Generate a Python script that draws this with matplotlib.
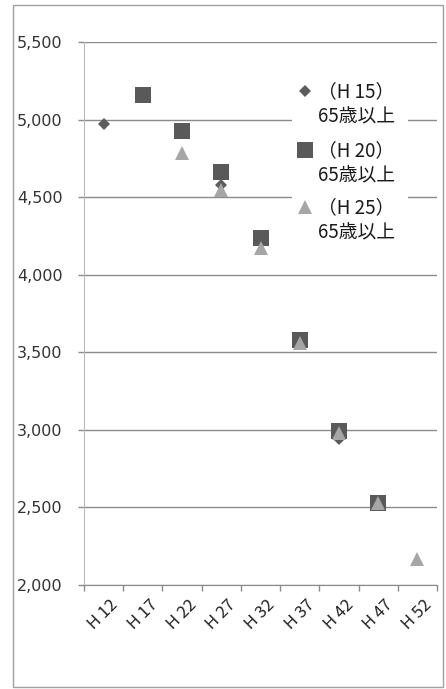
import numpy as np
import matplotlib
matplotlib.use("Agg")
import matplotlib.pyplot as plt
from matplotlib.patches import Rectangle
from matplotlib.transforms import ScaledTranslation

plt.rcParams['font.family'] = ['Noto Sans CJK JP', 'DejaVu Sans']

# projected population (65 and over), three projection vintages
years = ['H 12', 'H 17', 'H 22', 'H 27', 'H 32', 'H 37', 'H 42', 'H 47', 'H 52']
h15 = [4970, 5160, 4925, 4580, 4235, 3575, 2940, np.nan, np.nan]
h20 = [np.nan, 5160, 4925, 4660, 4235, 3580, 2990, 2530, np.nan]
h25 = [np.nan, np.nan, 4785, 4545, 4170, 3560, 2980, 2530, 2170]
labels = ['（H 15）\n65歳以上', '（H 20）\n65歳以上', '（H 25）\n65歳以上']
yticks = [2000, 2500, 3000, 3500, 4000, 4500, 5000, 5500]

grid_c = '#8a8a8a'
fig = plt.figure(figsize=(4.46, 6.89), dpi=100)
ax = fig.add_axes([84/446, 104/689, 353/446, 543/689])

x = np.arange(len(years))
styles = [
    dict(marker='D', ms=6.6, color='#5c5c5c'),
    dict(marker='s', ms=11, color='#595959'),
    dict(marker='^', ms=10.5, color='#a6a6a6'),
]
for vals, st in zip([h15, h20, h25], styles):
    ax.plot(x, vals, linestyle='none', marker=st['marker'], ms=st['ms'],
            color=st['color'], mew=0, zorder=3)

ax.set_xlim(-0.5, len(years) - 0.5)
ax.set_ylim(2000, 5500)
ax.set_yticks(yticks)
ax.set_yticklabels([f'{v:,}' for v in yticks], family='DejaVu Sans', fontsize=11.5)
ax.grid(axis='y', color=grid_c, lw=1.0, zorder=0)
ax.tick_params(axis='y', direction='out', length=4.3, width=1.0, color=grid_c,
               pad=11, labelcolor='#333333')

ax.set_xticks(x)
ax.set_xticklabels(years, rotation=45, ha='right', va='top',
                   rotation_mode='anchor', fontsize=12, color='#222222')
ax.set_xticks(np.arange(-0.5, len(years)), minor=True)
ax.tick_params(axis='x', which='major', length=0, pad=8)
ax.tick_params(axis='x', which='minor', direction='out', length=4.3,
               width=1.0, color=grid_c)
shift = ScaledTranslation(6/100, 0, fig.dpi_scale_trans)
for lab in ax.get_xticklabels():
    lab.set_transform(lab.get_transform() + shift)

for side in ['top', 'right']:
    ax.spines[side].set_visible(False)
ax.spines['left'].set_color('#b8b8b8')
ax.spines['bottom'].set_color(grid_c)

# legend block, white panel over the gridlines
def ax_pt(px, py):
    return (px - 84) / 353, (585 - py) / 543

lx0, ly0 = ax_pt(292, 245)
lx1, ly1 = ax_pt(408, 75)
ax.add_patch(Rectangle((lx0, ly0), lx1 - lx0, ly1 - ly0, transform=ax.transAxes,
                       facecolor='white', edgecolor='none', zorder=2))
rows = [91, 150, 207]
for lab, st, ry in zip(labels, styles, rows):
    mx, my = ax_pt(305, ry)
    ax.plot([mx], [my], transform=ax.transAxes, linestyle='none',
            marker=st['marker'], ms=st['ms'], color=st['color'], mew=0,
            clip_on=False, zorder=4)
    tx, ty = ax_pt(318, ry - 10)
    ax.text(tx, ty, lab, transform=ax.transAxes, fontsize=13.5, va='top',
            ha='left', linespacing=1.25, color='#1a1a1a', zorder=4)

fig.patches.append(Rectangle((13/446, 2/689), 430/446, 682/689,
                             transform=fig.transFigure, fill=False,
                             edgecolor='#a0a0a0', lw=1.0))

fig.savefig('out.png', dpi=100)
